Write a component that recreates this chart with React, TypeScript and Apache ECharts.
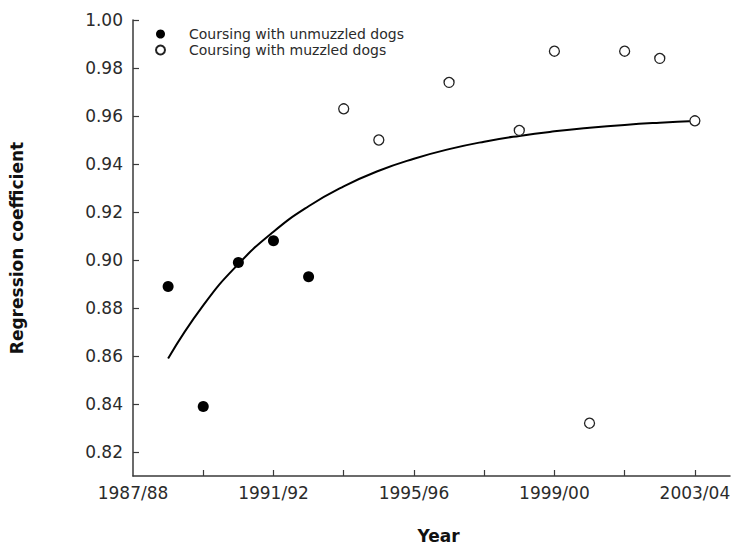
import React, { useEffect, useRef } from "react";
import * as echarts from "echarts";

const seasons = [
  "1987/88", "1988/89", "1989/90", "1990/91", "1991/92", "1992/93",
  "1993/94", "1994/95", "1995/96", "1996/97", "1997/98", "1998/99",
  "1999/00", "2000/01", "2001/02", "2002/03", "2003/04", "2004/05",
];

const unmuzzledSeasons = ["1988/89", "1989/90", "1990/91", "1991/92", "1992/93"];
const unmuzzledValues = [0.889, 0.839, 0.899, 0.908, 0.893];

const muzzledSeasons = [
  "1993/94", "1994/95", "1996/97", "1998/99", "1999/00",
  "2000/01", "2001/02", "2002/03", "2003/04",
];
const muzzledValues = [0.963, 0.95, 0.974, 0.954, 0.987, 0.832, 0.987, 0.984, 0.958];

const curveSeasons = [
  "1988/89", "1989/90", "1990/91", "1991/92", "1992/93", "1993/94",
  "1994/95", "1995/96", "1996/97", "1997/98", "1998/99", "1999/00",
  "2000/01", "2001/02", "2002/03", "2003/04",
];
const curveValues = [
  0.859, 0.8811, 0.8983, 0.9118, 0.9224, 0.9307, 0.9372, 0.9422,
  0.9462, 0.9493, 0.9517, 0.9536, 0.9551, 0.9563, 0.9572, 0.9579,
];

const xTickSeasons = ["1989/90", "1991/92", "1993/94", "1995/96", "1997/98", "1999/00", "2001/02", "2003/04"];
const xLabelSeasons = ["1987/88", "1991/92", "1995/96", "1999/00", "2003/04"];
const yTicks = [0.82, 0.84, 0.86, 0.88, 0.9, 0.92, 0.94, 0.96, 0.98, 1.0];

const SERIES_UNMUZZLED = "Coursing with unmuzzled dogs";
const SERIES_MUZZLED = "Coursing with muzzled dogs";

const idx = (s: string) => seasons.indexOf(s);
const FONT = "DejaVu Sans";
const TEXT_COLOR = "#2b2b2b";
const AXIS_COLOR = "#3a3a3a";

export default function App() {
  const ref = useRef<HTMLDivElement>(null);

  useEffect(() => {
    if (!ref.current) return;
    const chart = echarts.init(ref.current, undefined, { renderer: "svg" });
    chart.setOption({
      animation: false,
      backgroundColor: "#ffffff",
      grid: {
        left: 133,
        top: 20,
        right: 12,
        bottom: 69,
        containLabel: false,
        outerBoundsMode: "none",
      },
      legend: {
        data: [SERIES_UNMUZZLED, SERIES_MUZZLED],
        orient: "vertical",
        left: 155,
        top: 26,
        padding: 0,
        itemWidth: 9,
        itemHeight: 9,
        itemGap: 0,
        textStyle: {
          fontFamily: FONT,
          fontSize: 14,
          lineHeight: 16,
          color: TEXT_COLOR,
          padding: [0, 0, 0, 19],
        },
      },
      xAxis: {
        type: "value",
        min: 0,
        max: seasons.length - 1,
        interval: 1,
        splitLine: { show: false },
        axisLine: { show: true, lineStyle: { color: AXIS_COLOR, width: 1.5 } },
        axisTick: {
          show: true,
          inside: true,
          length: 6,
          customValues: xTickSeasons.map(idx),
          lineStyle: { color: AXIS_COLOR, width: 1.2 },
        },
        axisLabel: {
          customValues: xLabelSeasons.map(idx),
          formatter: (v: number) => seasons[Math.round(v)] ?? "",
          fontFamily: FONT,
          fontSize: 17,
          color: TEXT_COLOR,
          margin: 8,
        },
        name: "Year",
        nameLocation: "middle",
        nameGap: 51,
        nameTextStyle: {
          fontFamily: FONT,
          fontSize: 17,
          fontWeight: "bold",
          color: "#111",
          padding: [0, 0, 0, 14],
        },
      },
      yAxis: {
        type: "value",
        min: 0.81,
        max: 1.0,
        interval: 0.01,
        splitLine: { show: false },
        axisLine: { show: true, lineStyle: { color: AXIS_COLOR, width: 1.5 } },
        axisTick: {
          show: true,
          inside: true,
          length: 6,
          customValues: yTicks,
          lineStyle: { color: AXIS_COLOR, width: 1.2 },
        },
        axisLabel: {
          customValues: yTicks,
          formatter: (v: number) => v.toFixed(2),
          fontFamily: FONT,
          fontSize: 17,
          color: TEXT_COLOR,
          margin: 10,
        },
        name: "Regression coefficient",
        nameLocation: "middle",
        nameGap: 108,
        nameRotate: 90,
        nameTextStyle: {
          fontFamily: FONT,
          fontSize: 17,
          fontWeight: "bold",
          color: "#111",
        },
      },
      series: [
        {
          name: "fit",
          type: "line",
          smooth: 0.5,
          showSymbol: false,
          symbol: "none",
          data: curveSeasons.map((s, i) => [idx(s), curveValues[i]]),
          lineStyle: { color: "#000", width: 2 },
          z: 1,
        },
        {
          name: SERIES_UNMUZZLED,
          type: "scatter",
          symbol: "circle",
          symbolSize: 11,
          data: unmuzzledSeasons.map((s, i) => [idx(s), unmuzzledValues[i]]),
          itemStyle: { color: "#000", opacity: 1 },
          z: 3,
        },
        {
          name: SERIES_MUZZLED,
          type: "scatter",
          symbol: "circle",
          symbolSize: 10,
          data: muzzledSeasons.map((s, i) => [idx(s), muzzledValues[i]]),
          itemStyle: { color: "#fff", borderColor: "#222", borderWidth: 1.3, opacity: 1 },
          z: 3,
        },
      ],
    });
    return () => chart.dispose();
  }, []);

  return (
    <div
      ref={ref}
      style={{ position: "absolute", left: 0, top: 0, width: 742, height: 545 }}
    />
  );
}
